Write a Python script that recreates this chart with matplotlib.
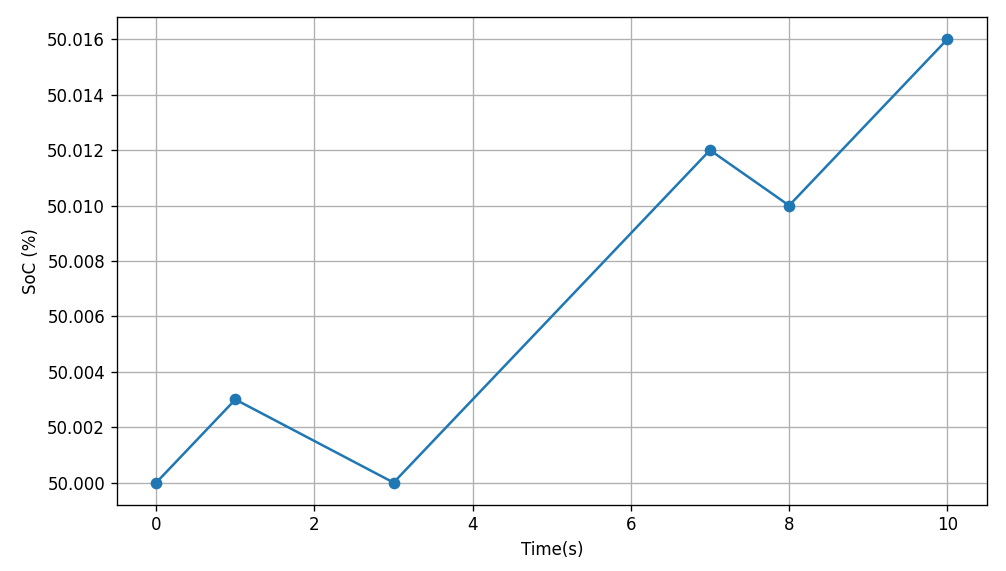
import matplotlib
matplotlib.use("Agg")
import matplotlib.pyplot as plt

time_s = [0, 1, 3, 7, 8, 10]
soc = [50.000, 50.003, 50.000, 50.012, 50.010, 50.016]

fig, ax = plt.subplots(figsize=(1006 / 120, 571 / 120), dpi=120)
ax.plot(time_s, soc, marker="o")
ax.set_xlabel("Time(s)")
ax.set_ylabel("SoC (%)")
ax.ticklabel_format(axis="y", useOffset=False)
ax.yaxis.set_major_formatter(matplotlib.ticker.FormatStrFormatter("%.3f"))
ax.grid(True)
fig.subplots_adjust(left=0.116, right=0.981, top=0.970, bottom=0.116)
fig.savefig("out.png", dpi=120)
